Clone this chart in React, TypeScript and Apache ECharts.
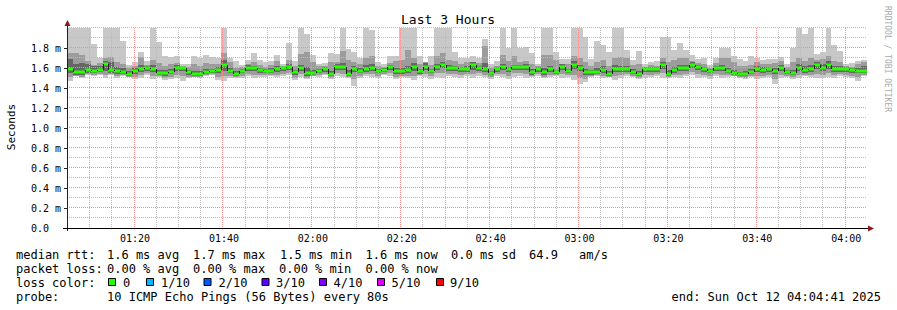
import { useEffect, useRef } from "react";
import * as echarts from "echarts";

// time in seconds since midnight; 01:04:41 -> 04:04:41, 80 s steps
const START = 3881;
const STEP = 80;
const END = START + 10800;

const X_TICKS = [4800, 6000, 7200, 8400, 9600, 10800, 12000, 13200, 14400];

// median rtt (ms) per 80 s step
const MEDIAN = [
  1.59, 1.56, 1.56, 1.58, 1.57, 1.58, 1.64, 1.58, 1.57, 1.56, 1.54, 1.57, 1.59, 1.6, 1.59, 1.55, 1.55, 1.56, 1.6, 1.6, 1.56, 1.54, 1.54, 1.56, 1.57, 1.58, 1.63, 1.57, 1.54, 1.57, 1.6, 1.6, 1.58, 1.57,
  1.57, 1.59, 1.6, 1.61, 1.56, 1.6, 1.55, 1.555, 1.57, 1.59, 1.54, 1.61, 1.61, 1.54, 1.59, 1.57, 1.59, 1.6, 1.57, 1.58, 1.61, 1.57, 1.57, 1.58, 1.61, 1.57, 1.61, 1.57, 1.61, 1.63, 1.6, 1.6, 1.59, 1.59,
  1.63, 1.6, 1.59, 1.55, 1.59, 1.61, 1.59, 1.61, 1.61, 1.61, 1.56, 1.59, 1.56, 1.59, 1.56, 1.61, 1.57, 1.63, 1.6, 1.56, 1.56, 1.56, 1.58, 1.54, 1.59, 1.59, 1.59, 1.56, 1.54, 1.59, 1.59, 1.59, 1.63, 1.54,
  1.58, 1.6, 1.6, 1.63, 1.61, 1.59, 1.57, 1.6, 1.6, 1.57, 1.55, 1.54, 1.54, 1.56, 1.59, 1.58, 1.59, 1.57, 1.6, 1.56, 1.55, 1.6, 1.58, 1.59, 1.63, 1.6, 1.63, 1.59, 1.59, 1.59, 1.58, 1.57, 1.57,
];

// slowest ping per step (ms)
const PING_MAX = [
  2.0, 2.0, 2.0, 2.0, 1.84, 1.7, 2.0, 2.0, 2.0, 1.87, 1.63, 1.66, 1.76, 1.67, 2.0, 1.86, 1.72, 1.71, 1.72, 1.64, 1.64, 1.72, 1.7, 1.73, 1.71, 1.7, 2.0, 1.7, 1.67, 1.63, 1.68, 1.75, 1.68, 1.66,
  1.67, 1.73, 1.64, 1.85, 1.67, 2.0, 1.94, 1.73, 1.64, 1.65, 1.75, 1.74, 2.0, 1.79, 1.76, 1.7, 2.0, 1.98, 1.66, 1.64, 1.72, 1.72, 2.0, 2.0, 2.0, 1.72, 1.66, 1.72, 2.0, 2.0, 2.0, 1.76, 1.7, 1.7,
  1.72, 1.7, 1.89, 1.64, 1.67, 2.0, 1.8, 2.0, 1.8, 1.81, 1.75, 1.64, 2.0, 2.0, 1.76, 1.69, 1.69, 2.0, 2.0, 1.91, 1.69, 1.87, 1.83, 1.76, 2.0, 2.0, 1.78, 1.68, 1.77, 1.64, 1.66, 1.67, 1.91, 1.91,
  1.78, 1.85, 1.78, 1.73, 1.69, 1.7, 1.63, 1.7, 1.8, 1.8, 1.72, 1.69, 1.67, 1.72, 1.7, 1.68, 1.69, 1.69, 1.71, 1.64, 1.8, 2.0, 1.94, 2.0, 1.74, 1.76, 2.0, 1.83, 1.77, 1.64, 1.65, 1.67, 1.68,
];

// second slowest ping group (ms)
const PING_HI2 = [
  1.75, 1.75, 1.73, 1.67, 1.63, 1.65, 1.7, 1.71, 1.66, 1.64, 1.6, 1.62, 1.71, 1.63, 1.68, 1.65, 1.62, 1.64, 1.65, 1.62, 1.61, 1.64, 1.62, 1.65, 1.64, 1.64, 1.75, 1.66, 1.6, 1.61, 1.64, 1.66, 1.63, 1.61,
  1.63, 1.67, 1.62, 1.68, 1.62, 1.74, 1.76, 1.66, 1.62, 1.62, 1.66, 1.66, 1.77, 1.68, 1.66, 1.64, 1.7, 1.72, 1.62, 1.61, 1.65, 1.67, 1.68, 1.78, 1.7, 1.64, 1.66, 1.63, 1.72, 1.75, 1.68, 1.67, 1.64, 1.66,
  1.66, 1.65, 1.82, 1.6, 1.62, 1.73, 1.67, 1.72, 1.66, 1.67, 1.64, 1.62, 1.73, 1.73, 1.68, 1.64, 1.64, 1.72, 1.7, 1.66, 1.62, 1.66, 1.68, 1.62, 1.7, 1.71, 1.7, 1.63, 1.64, 1.61, 1.63, 1.62, 1.7, 1.66,
  1.68, 1.7, 1.7, 1.67, 1.65, 1.64, 1.6, 1.65, 1.7, 1.7, 1.66, 1.62, 1.62, 1.63, 1.66, 1.64, 1.64, 1.65, 1.67, 1.61, 1.66, 1.7, 1.67, 1.7, 1.68, 1.69, 1.72, 1.67, 1.66, 1.62, 1.61, 1.64, 1.66,
];

// inner upper ping group (ms)
const PING_HI1 = [
  1.69, 1.64, 1.65, 1.64, 1.62, 1.62, 1.67, 1.66, 1.61, 1.6, 1.57, 1.6, 1.63, 1.62, 1.63, 1.58, 1.58, 1.59, 1.63, 1.61, 1.58, 1.57, 1.57, 1.59, 1.59, 1.61, 1.68, 1.6, 1.57, 1.59, 1.63, 1.62, 1.6, 1.59,
  1.6, 1.62, 1.61, 1.64, 1.58, 1.63, 1.61, 1.58, 1.59, 1.61, 1.57, 1.64, 1.65, 1.58, 1.62, 1.6, 1.63, 1.64, 1.59, 1.6, 1.63, 1.6, 1.6, 1.62, 1.65, 1.59, 1.65, 1.59, 1.64, 1.66, 1.63, 1.62, 1.61, 1.62,
  1.66, 1.62, 1.65, 1.57, 1.61, 1.64, 1.61, 1.63, 1.63, 1.64, 1.59, 1.61, 1.6, 1.62, 1.58, 1.64, 1.59, 1.67, 1.63, 1.59, 1.58, 1.6, 1.62, 1.57, 1.63, 1.62, 1.62, 1.59, 1.57, 1.61, 1.61, 1.61, 1.66, 1.58,
  1.61, 1.63, 1.63, 1.66, 1.63, 1.61, 1.59, 1.62, 1.63, 1.6, 1.58, 1.56, 1.57, 1.59, 1.62, 1.61, 1.61, 1.6, 1.63, 1.58, 1.58, 1.64, 1.62, 1.63, 1.66, 1.64, 1.67, 1.62, 1.62, 1.61, 1.6, 1.6, 1.62,
];

// inner lower ping group (ms)
const PING_LO1 = [
  1.55, 1.53, 1.53, 1.55, 1.55, 1.56, 1.57, 1.55, 1.54, 1.54, 1.52, 1.54, 1.56, 1.57, 1.56, 1.53, 1.52, 1.54, 1.57, 1.57, 1.53, 1.52, 1.52, 1.54, 1.55, 1.55, 1.57, 1.55, 1.52, 1.55, 1.57, 1.57, 1.55, 1.55,
  1.55, 1.56, 1.57, 1.58, 1.53, 1.57, 1.52, 1.53, 1.55, 1.56, 1.52, 1.58, 1.58, 1.52, 1.56, 1.55, 1.56, 1.57, 1.55, 1.56, 1.58, 1.54, 1.54, 1.55, 1.57, 1.54, 1.58, 1.55, 1.58, 1.6, 1.57, 1.57, 1.56, 1.56,
  1.58, 1.57, 1.56, 1.53, 1.56, 1.58, 1.56, 1.58, 1.58, 1.58, 1.53, 1.56, 1.53, 1.56, 1.54, 1.58, 1.55, 1.59, 1.57, 1.53, 1.53, 1.54, 1.55, 1.52, 1.56, 1.56, 1.56, 1.54, 1.52, 1.56, 1.56, 1.56, 1.59, 1.52,
  1.55, 1.57, 1.57, 1.6, 1.58, 1.56, 1.55, 1.57, 1.57, 1.55, 1.53, 1.52, 1.52, 1.54, 1.56, 1.55, 1.56, 1.54, 1.57, 1.54, 1.53, 1.57, 1.55, 1.56, 1.59, 1.57, 1.59, 1.56, 1.56, 1.56, 1.55, 1.55, 1.55,
];

// second fastest ping group (ms)
const PING_LO2 = [
  1.51, 1.52, 1.51, 1.54, 1.53, 1.54, 1.53, 1.54, 1.52, 1.53, 1.515, 1.51, 1.53, 1.55, 1.52, 1.52, 1.5, 1.51, 1.53, 1.52, 1.51, 1.515, 1.51, 1.53, 1.54, 1.51, 1.52, 1.52, 1.51, 1.52, 1.54, 1.53, 1.53, 1.53,
  1.53, 1.53, 1.54, 1.55, 1.5, 1.54, 1.5, 1.52, 1.53, 1.54, 1.5, 1.55, 1.54, 1.51, 1.49, 1.52, 1.54, 1.54, 1.52, 1.545, 1.55, 1.51, 1.52, 1.52, 1.52, 1.53, 1.54, 1.52, 1.55, 1.55, 1.54, 1.54, 1.53, 1.54,
  1.54, 1.55, 1.53, 1.51, 1.54, 1.54, 1.52, 1.55, 1.55, 1.54, 1.52, 1.54, 1.51, 1.53, 1.53, 1.54, 1.53, 1.53, 1.5, 1.49, 1.52, 1.53, 1.52, 1.515, 1.52, 1.53, 1.54, 1.52, 1.5, 1.53, 1.53, 1.54, 1.55, 1.51,
  1.53, 1.53, 1.54, 1.56, 1.54, 1.53, 1.52, 1.54, 1.53, 1.53, 1.525, 1.51, 1.505, 1.52, 1.52, 1.52, 1.53, 1.49, 1.53, 1.52, 1.51, 1.53, 1.53, 1.53, 1.54, 1.53, 1.55, 1.53, 1.54, 1.53, 1.52, 1.51, 1.53,
];

// fastest ping per step (ms)
const PING_MIN = [
  1.47, 1.52, 1.5, 1.53, 1.52, 1.53, 1.5, 1.53, 1.5, 1.52, 1.51, 1.49, 1.5, 1.53, 1.49, 1.51, 1.48, 1.49, 1.5, 1.47, 1.5, 1.51, 1.5, 1.52, 1.53, 1.48, 1.47, 1.5, 1.5, 1.5, 1.52, 1.5, 1.51, 1.51,
  1.52, 1.51, 1.52, 1.53, 1.48, 1.51, 1.49, 1.52, 1.51, 1.53, 1.49, 1.52, 1.51, 1.5, 1.42, 1.5, 1.52, 1.51, 1.5, 1.53, 1.52, 1.49, 1.51, 1.5, 1.48, 1.52, 1.51, 1.49, 1.51, 1.5, 1.52, 1.51, 1.5, 1.52,
  1.5, 1.52, 1.51, 1.49, 1.52, 1.51, 1.49, 1.51, 1.52, 1.5, 1.51, 1.52, 1.5, 1.51, 1.52, 1.5, 1.51, 1.48, 1.44, 1.46, 1.51, 1.52, 1.5, 1.51, 1.48, 1.5, 1.52, 1.51, 1.49, 1.5, 1.51, 1.52, 1.5, 1.5,
  1.51, 1.5, 1.52, 1.53, 1.5, 1.51, 1.49, 1.52, 1.5, 1.51, 1.52, 1.5, 1.49, 1.51, 1.49, 1.5, 1.51, 1.44, 1.5, 1.51, 1.49, 1.5, 1.52, 1.51, 1.5, 1.5, 1.51, 1.5, 1.52, 1.51, 1.5, 1.47, 1.52,
];

const LOSS_LABELS = ["0", "1/10", "2/10", "3/10", "4/10", "5/10", "9/10"];
const LOSS_COLORS = ["#26ff00", "#00b8ff", "#0059ff", "#5e00ff", "#7e00ff", "#dd00ff", "#ff0000"];

const RTT_LINE = ["median rtt:", "1.6 ms avg", "1.7 ms max", "1.5 ms min", "1.6 ms now", "0.0 ms sd", "64.9", "am/s"];
const LOSS_LINE = ["packet loss:", "0.00 % avg", "0.00 % max", "0.00 % min", "0.00 % now"];
const PROBE_LINE = ["probe:", "10 ICMP Echo Pings (56 Bytes) every 80s"];
const END_TEXT = "end: Sun Oct 12 04:04:41 2025";
const TITLE = "Last 3 Hours";

const MONO = '"DejaVu Sans Mono", "Liberation Mono", monospace';
const GRID_MINOR = "#bcbcbc";
const GRID_MAJOR = "#f09090";

function hhmm(v: number) {
  const h = Math.floor(v / 3600);
  const m = Math.floor((v % 3600) / 60);
  return String(h).padStart(2, "0") + ":" + String(m).padStart(2, "0");
}

function bandSeries(low: number[], high: number[], color: string, z: number) {
  return {
    type: "custom",
    z,
    silent: true,
    clip: true,
    encode: { x: [0, 1], y: [2, 3] },
    data: low.map((lo, k) => [START + k * STEP, START + (k + 1) * STEP, lo, high[k]]),
    renderItem: (_p: any, api: any) => {
      const a = api.coord([api.value(0), api.value(3)]);
      const b = api.coord([api.value(1), api.value(2)]);
      const x0 = Math.round(a[0]);
      const x1 = Math.round(b[0]);
      const y0 = Math.round(a[1]);
      const y1 = Math.round(b[1]);
      return {
        type: "rect",
        shape: { x: x0, y: y0, width: x1 - x0, height: Math.max(1, y1 - y0) },
        style: { fill: color },
      };
    },
  };
}

function txt(text: string, x: number, y: number, opts: any = {}) {
  return {
    type: "text",
    x,
    y,
    rotation: opts.rotation || 0,
    silent: true,
    z: 100,
    style: {
      text,
      fill: opts.fill || "#000",
      font: `${opts.size || 12}px ${MONO}`,
      align: opts.align || "left",
      verticalAlign: "middle",
      textAlign: opts.align || "left",
      textVerticalAlign: "middle",
    },
  };
}

export default function App() {
  const ref = useRef<HTMLDivElement>(null);
  useEffect(() => {
    document.body.style.margin = "0";
    const chart = echarts.init(ref.current!, null, { renderer: "svg" });

    // vertical grid: every 5 min, major every 20 min
    const vLines: number[][] = [];
    for (let t = 3900; t < END; t += 300) vLines.push([t, 1, t % 1200 === 0 ? 1 : 0]);
    // horizontal grid: every 0.1 ms, major every 0.2 ms
    const hVals = [0.1, 0.2, 0.3, 0.4, 0.5, 0.6, 0.7, 0.8, 0.9, 1.0, 1.1, 1.2, 1.3, 1.4, 1.5, 1.6, 1.7, 1.8, 1.9, 2.0];
    const hLines = hVals.map((v, i) => [START + 60, v, i % 2 === 1 && v < 1.95 ? 1 : 0]);

    const gridSeries = {
      type: "custom",
      z: 5,
      silent: true,
      encode: { x: 0, y: 1 },
      data: [
        ...vLines.map((d) => [d[0], d[1], d[2], 0]),
        ...hLines.map((d) => [d[0], d[1], d[2], 1]),
      ],
      renderItem: (params: any, api: any) => {
        const cs = params.coordSys;
        const p = api.coord([api.value(0), api.value(1)]);
        const color = api.value(2) === 1 ? GRID_MAJOR : GRID_MINOR;
        if (api.value(3) === 0) {
          const x = Math.floor(p[0]) - 0.5;
          return {
            type: "line",
            shape: { x1: x, y1: cs.y, x2: x, y2: cs.y + cs.height },
            style: { stroke: color, lineWidth: 1, lineDash: [1, 1] },
          };
        }
        const y = Math.round(p[1]) - 0.5;
        return {
          type: "line",
          shape: { x1: cs.x, y1: y, x2: cs.x + cs.width, y2: y },
          style: { stroke: color, lineWidth: 1, lineDash: [1, 1] },
        };
      },
    };

    const medianSeries = {
      type: "custom",
      z: 10,
      silent: true,
      clip: true,
      encode: { x: [0, 1], y: 2 },
      data: MEDIAN.map((m, k) => [START + k * STEP, START + (k + 1) * STEP, m]),
      renderItem: (params: any, api: any) => {
        const k = params.dataIndex;
        const a = api.coord([api.value(0), api.value(2)]);
        const b = api.coord([api.value(1), api.value(2)]);
        const x0 = Math.round(a[0]);
        const x1 = Math.round(b[0]);
        const y = Math.round(a[1]);
        const children: any[] = [
          {
            type: "rect",
            shape: { x: x0, y: y - 1.5, width: x1 - x0, height: 3 },
            style: { fill: LOSS_COLORS[0] },
          },
        ];
        if (k > 0) {
          const py = Math.round(api.coord([api.value(0), MEDIAN[k - 1]])[1]);
          if (py !== y) {
            children.push({
              type: "line",
              shape: { x1: x0 + 0.5, y1: py, x2: x0 + 0.5, y2: y },
              style: { stroke: "#202020", lineWidth: 1 },
            });
          }
        }
        return { type: "group", children };
      },
    };

    const graphics: any[] = [
      txt(TITLE, 448, 19.5, { size: 13, align: "center" }),
      txt("Seconds", 11, 127, { size: 11, align: "center", rotation: Math.PI / 2 }),
      txt("RRDTOOL / TOBI OETIKER", 887, 59, { size: 8, align: "center", rotation: -Math.PI / 2, fill: "#aaaaaa" }),
      { type: "line", z: 50, silent: true, shape: { x1: 67.5, y1: 231, x2: 67.5, y2: 24 }, style: { stroke: "#202020", lineWidth: 1 } },
      { type: "line", z: 50, silent: true, shape: { x1: 63, y1: 228.5, x2: 869, y2: 228.5 }, style: { stroke: "#000000", lineWidth: 1 } },
      { type: "polygon", z: 51, silent: true, shape: { points: [[64.5, 26], [67.5, 20], [70.5, 26]] }, style: { fill: "#8b1a1a" } },
      { type: "polygon", z: 51, silent: true, shape: { points: [[868, 225.5], [874, 228.5], [868, 231.5]] }, style: { fill: "#8b1a1a" } },
    ];

    const rttX = [16, 107, 193, 280, 365.5, 451, 529, 579];
    RTT_LINE.forEach((s, i) => graphics.push(txt(s, rttX[i], 255)));
    const lossX = [16, 107, 193, 279, 365.5];
    LOSS_LINE.forEach((s, i) => graphics.push(txt(s, lossX[i], 268.5)));
    graphics.push(txt("loss color:", 16, 282.5));
    const boxX = [108, 146, 203.5, 261.5, 319, 377, 436];
    const labX = [123, 161, 218.5, 276, 333.5, 391.5, 450];
    LOSS_LABELS.forEach((s, i) => {
      graphics.push({
        type: "rect",
        z: 100,
        silent: true,
        shape: { x: boxX[i] + 0.5, y: 278.5, width: 7, height: 7 },
        style: { fill: LOSS_COLORS[i], stroke: "#000", lineWidth: 1 },
      });
      graphics.push(txt(s, labX[i], 282.5));
    });
    graphics.push(txt(PROBE_LINE[0], 16, 296.5));
    graphics.push(txt(PROBE_LINE[1], 107, 296.5));
    graphics.push(txt(END_TEXT, 881, 296.5, { align: "right" }));

    chart.setOption({
      animation: false,
      backgroundColor: "#ffffff",
      grid: { left: 67, right: 30, top: 28, bottom: 82, containLabel: false },
      xAxis: {
        type: "value",
        min: START,
        max: END,
        axisLine: { show: false },
        axisTick: { show: false },
        splitLine: { show: false },
        axisLabel: {
          customValues: X_TICKS,
          formatter: (v: number) => hhmm(v),
          fontFamily: MONO,
          fontSize: 10,
          color: "#000",
          margin: 5,
        },
      },
      yAxis: {
        type: "value",
        min: 0,
        max: 2.0,
        interval: 0.2,
        axisLine: { show: false },
        axisTick: { show: true, length: 3, lineStyle: { color: "#202020" } },
        splitLine: { show: false },
        axisLabel: {
          formatter: (v: number) => (v === 0 ? "0.0" : v.toFixed(1) + " m"),
          showMaxLabel: false,
          align: "left",
          margin: 36,
          fontFamily: MONO,
          fontSize: 10,
          color: "#000",
        },
      },
      graphic: graphics,
      series: [
        bandSeries(PING_MIN, PING_MAX, "#c8c8c8", 1),
        bandSeries(PING_LO2, PING_HI2, "#9c9c9c", 2),
        bandSeries(PING_LO1, PING_HI1, "#666666", 3),
        gridSeries,
        medianSeries,
      ],
    });
    return () => chart.dispose();
  }, []);
  return <div ref={ref} style={{ width: 897, height: 310 }} />;
}
